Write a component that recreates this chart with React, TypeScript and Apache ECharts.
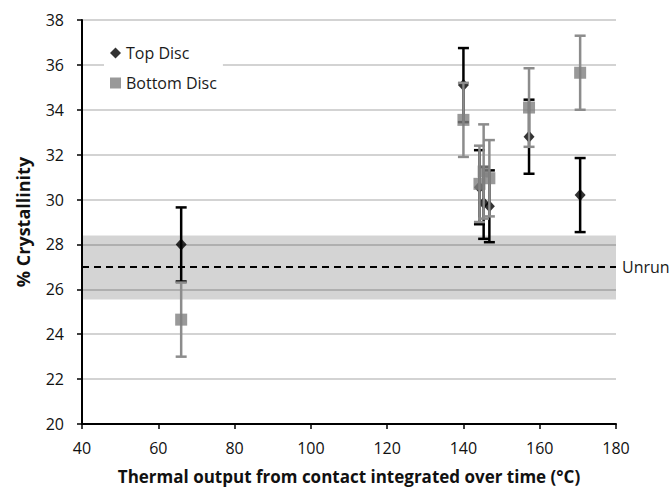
import React, { useEffect, useRef } from "react";
import * as echarts from "echarts";

// ---- data ----
const topX = [66, 140, 144.2, 145.3, 146.8, 157.2, 170.6];
const topY = [28.0, 35.1, 30.55, 29.85, 29.7, 32.8, 30.2];
const topErr = [1.65, 1.65, 1.65, 1.6, 1.6, 1.65, 1.65];

const bottomX = [66, 140, 144.2, 145.3, 146.8, 157.2, 170.6];
const bottomY = [24.65, 33.55, 30.7, 31.25, 30.95, 34.1, 35.65];
const bottomErr = [1.65, 1.65, 1.7, 2.1, 1.7, 1.75, 1.65];

const unrunValue = 27.0;
const unrunBand = [25.55, 28.4];

const xTicks = { min: 40, max: 180, interval: 20 };
const yTicks = { min: 20, max: 38, interval: 2 };

const FONT = "'Open Sans', sans-serif";

function errorSeries(name: string, xs: number[], ys: number[], errs: number[], color: string, z: number) {
  return {
    name,
    type: "custom",
    z,
    silent: true,
    encode: { x: 0, y: [1, 2] },
    data: xs.map((x, i) => [x, ys[i] - errs[i], ys[i] + errs[i]]),
    renderItem: (params: any, api: any) => {
      const x = api.value(0);
      const lo = api.coord([x, api.value(1)]);
      const hi = api.coord([x, api.value(2)]);
      const hw = 5.5;
      const style = { stroke: color, lineWidth: 2.5 };
      return {
        type: "group",
        children: [
          { type: "line", shape: { x1: lo[0], y1: lo[1], x2: hi[0], y2: hi[1] }, style },
          { type: "line", shape: { x1: lo[0] - hw, y1: lo[1], x2: lo[0] + hw, y2: lo[1] }, style },
          { type: "line", shape: { x1: hi[0] - hw, y1: hi[1], x2: hi[0] + hw, y2: hi[1] }, style },
        ],
      };
    },
  };
}

export default function App() {
  const ref = useRef<HTMLDivElement>(null);
  useEffect(() => {
    if (!ref.current) return;
    const chart = echarts.init(ref.current, undefined, { renderer: "svg" });
    chart.setOption({
      animation: false,
      backgroundColor: "#ffffff",
      textStyle: { fontFamily: FONT },
      grid: { left: 82, right: 55, top: 20, bottom: 64 },
      legend: {
        data: ["Top Disc", "Bottom Disc"],
        orient: "vertical",
        left: 104,
        top: 41,
        backgroundColor: "#ffffff",
        padding: [4, 6, 4, 6],
        itemWidth: 11,
        itemHeight: 11,
        itemGap: 14,
        textStyle: { fontSize: 16, color: "#1a1a1a", fontFamily: FONT },
      },
      xAxis: {
        type: "value",
        min: xTicks.min,
        max: xTicks.max,
        interval: xTicks.interval,
        name: "Thermal output from contact integrated over time (°C)",
        nameLocation: "middle",
        nameGap: 44,
        nameTextStyle: { fontSize: 17, fontWeight: "bold", color: "#111", fontFamily: FONT },
        axisLine: { lineStyle: { color: "#000", width: 2 } },
        axisTick: { show: true, length: 5, lineStyle: { color: "#000", width: 1.5 } },
        axisLabel: { fontSize: 16, color: "#111", margin: 16, fontFamily: FONT },
        splitLine: { show: false },
      },
      yAxis: {
        type: "value",
        min: yTicks.min,
        max: yTicks.max,
        interval: yTicks.interval,
        name: "% Crystallinity",
        nameLocation: "middle",
        nameGap: 50,
        nameTextStyle: { fontSize: 18, fontWeight: "bold", color: "#111", fontFamily: FONT },
        axisLine: { show: true, lineStyle: { color: "#000", width: 2 } },
        axisTick: { show: true, length: 5, lineStyle: { color: "#000", width: 1.5 } },
        axisLabel: { fontSize: 16, color: "#111", margin: 18, fontFamily: FONT },
        splitLine: { show: true, lineStyle: { color: "#c4c4c4", width: 1.5 } },
      },
      series: [
        {
          name: "Unrun",
          type: "line",
          data: [],
          z: 1,
          silent: true,
          markArea: {
            silent: true,
            itemStyle: { color: "rgba(0,0,0,0.17)" },
            data: [[{ yAxis: unrunBand[0] }, { yAxis: unrunBand[1] }]],
          },
          markLine: {
            silent: true,
            symbol: ["none", "none"],
            lineStyle: { color: "#000", type: [7, 5], width: 2 },
            label: {
              show: true,
              position: "end",
              formatter: "Unrun",
              color: "#1a1a1a",
              fontSize: 16,
              fontFamily: FONT,
              distance: 6,
            },
            data: [{ yAxis: unrunValue }],
          },
        },
        errorSeries("Top Disc Error", topX, topY, topErr, "#000000", 3),
        {
          name: "Top Disc",
          type: "scatter",
          z: 4,
          symbol: "diamond",
          symbolSize: [11, 12],
          itemStyle: { color: "#000000" },
          data: topX.map((x, i) => [x, topY[i]]),
        },
        errorSeries("Bottom Disc Error", bottomX, bottomY, bottomErr, "#8c8c8c", 5),
        {
          name: "Bottom Disc",
          type: "scatter",
          z: 6,
          symbol: "rect",
          symbolSize: 12,
          itemStyle: { color: "#808080" },
          data: bottomX.map((x, i) => [x, bottomY[i]]),
        },
      ],
    });
    return () => chart.dispose();
  }, []);
  return (
    <div
      ref={ref}
      style={{ position: "absolute", left: 0, top: 0, width: 671, height: 490 }}
    />
  );
}
